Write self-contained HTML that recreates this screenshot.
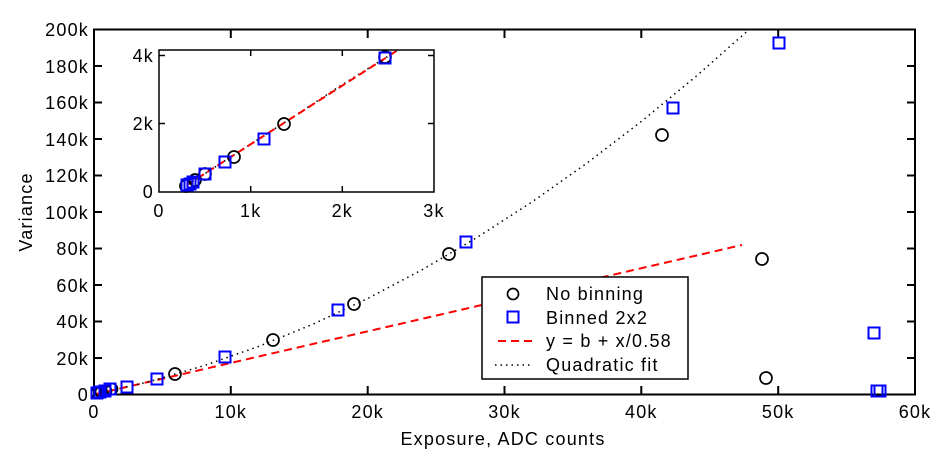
<!DOCTYPE html>
<html><head><meta charset="utf-8"><style>
html,body{margin:0;padding:0;background:#fff}
svg{display:block;font-family:"Liberation Sans",Arial,sans-serif}
</style></head><body>
<svg width="943" height="457" viewBox="0 0 943 457">
<rect width="943" height="457" fill="#fff"/>
<g stroke="#000" stroke-width="2" fill="none">
<rect x="94" y="29.5" width="821" height="365"/>
</g>
<g stroke="#000" stroke-width="2">
<line x1="230.8" y1="394" x2="230.8" y2="386"/><line x1="230.8" y1="30" x2="230.8" y2="38"/>
<line x1="367.7" y1="394" x2="367.7" y2="386"/><line x1="367.7" y1="30" x2="367.7" y2="38"/>
<line x1="504.5" y1="394" x2="504.5" y2="386"/><line x1="504.5" y1="30" x2="504.5" y2="38"/>
<line x1="641.3" y1="394" x2="641.3" y2="386"/><line x1="641.3" y1="30" x2="641.3" y2="38"/>
<line x1="778.2" y1="394" x2="778.2" y2="386"/><line x1="778.2" y1="30" x2="778.2" y2="38"/>
<line x1="94" y1="358" x2="102" y2="358"/><line x1="915" y1="358" x2="907" y2="358"/>
<line x1="94" y1="321.5" x2="102" y2="321.5"/><line x1="915" y1="321.5" x2="907" y2="321.5"/>
<line x1="94" y1="285" x2="102" y2="285"/><line x1="915" y1="285" x2="907" y2="285"/>
<line x1="94" y1="248.5" x2="102" y2="248.5"/><line x1="915" y1="248.5" x2="907" y2="248.5"/>
<line x1="94" y1="212" x2="102" y2="212"/><line x1="915" y1="212" x2="907" y2="212"/>
<line x1="94" y1="175.5" x2="102" y2="175.5"/><line x1="915" y1="175.5" x2="907" y2="175.5"/>
<line x1="94" y1="139" x2="102" y2="139"/><line x1="915" y1="139" x2="907" y2="139"/>
<line x1="94" y1="102.5" x2="102" y2="102.5"/><line x1="915" y1="102.5" x2="907" y2="102.5"/>
<line x1="94" y1="66" x2="102" y2="66"/><line x1="915" y1="66" x2="907" y2="66"/>
</g>
<g font-size="18" letter-spacing="1.2" fill="#000" text-anchor="end">
<text x="89" y="401">0</text>
<text x="89" y="365">20k</text>
<text x="89" y="328">40k</text>
<text x="89" y="292">60k</text>
<text x="89" y="255">80k</text>
<text x="89" y="219">100k</text>
<text x="89" y="182">120k</text>
<text x="89" y="146">140k</text>
<text x="89" y="109">160k</text>
<text x="89" y="73">180k</text>
<text x="89" y="36">200k</text>
</g>
<g font-size="18" letter-spacing="1.2" fill="#000" text-anchor="middle">
<text x="94" y="418">0</text>
<text x="230.8" y="418">10k</text>
<text x="367.7" y="418">20k</text>
<text x="504.5" y="418">30k</text>
<text x="641.3" y="418">40k</text>
<text x="778.2" y="418">50k</text>
<text x="915" y="418">60k</text>
<text x="503" y="445">Exposure, ADC counts</text>
<text transform="translate(32,212) rotate(-90)">Variance</text>
</g>
<polyline points="94,394.5 742,245" fill="none" stroke="#f00" stroke-width="2" stroke-dasharray="8,5"/>
<polyline fill="none" stroke="#000" stroke-width="1.5" stroke-dasharray="1.5,4"
points="94,394.5 148.7,381.8 203.5,365.8 258.2,346.6 312.9,324.2 367.7,298.5 422.4,269.6 477.1,237.4 531.9,202 586.6,163.4 641.3,121.5 696.1,76.3 749.4,29.3"/>
<g fill="none" stroke="#000" stroke-width="1.7">
<circle cx="97" cy="393" r="5.5"/><circle cx="101" cy="392" r="5.5"/><circle cx="106" cy="391" r="5.5"/><circle cx="112" cy="389" r="5.5"/>
<circle cx="175" cy="374" r="6"/><circle cx="273" cy="340" r="6"/><circle cx="354" cy="304" r="6"/>
<circle cx="449" cy="254" r="6"/><circle cx="662" cy="135" r="6"/><circle cx="762" cy="259" r="6"/><circle cx="766" cy="378" r="6"/>
</g>
<g fill="none" stroke="#00f" stroke-width="2">
<rect x="91.5" y="387.5" width="11" height="11"/><rect x="94.5" y="386.5" width="11" height="11"/><rect x="99.5" y="385.5" width="11" height="11"/><rect x="104.5" y="383.5" width="11" height="11"/>
<rect x="121.5" y="381.5" width="11" height="11"/><rect x="151.5" y="373.5" width="11" height="11"/><rect x="219.5" y="351.5" width="11" height="11"/>
<rect x="332.5" y="304.5" width="11" height="11"/><rect x="460.5" y="236.5" width="11" height="11"/><rect x="667.5" y="102.5" width="11" height="11"/>
<rect x="773.5" y="37.5" width="11" height="11"/><rect x="868.5" y="327.5" width="11" height="11"/><rect x="871.5" y="385.5" width="11" height="11"/><rect x="874.5" y="385.5" width="11" height="11"/>
</g>
<rect x="482" y="277" width="206" height="102" fill="#fff" stroke="#000" stroke-width="1.5"/>
<circle cx="513" cy="294" r="5.5" fill="none" stroke="#000" stroke-width="1.7"/>
<rect x="507.5" y="311.5" width="11" height="11" fill="none" stroke="#00f" stroke-width="2"/>
<line x1="498" y1="341" x2="533" y2="341" stroke="#f00" stroke-width="2" stroke-dasharray="8,5"/>
<line x1="495" y1="365" x2="530" y2="365" stroke="#000" stroke-width="1.5" stroke-dasharray="1.5,4"/>
<g font-size="18" letter-spacing="1.2" fill="#000">
<text x="546" y="300">No binning</text>
<text x="546" y="324">Binned 2x2</text>
<text x="546" y="347">y = b + x/0.58</text>
<text x="546" y="371">Quadratic fit</text>
</g>
<rect x="159" y="50" width="275" height="142" fill="#fff" stroke="#000" stroke-width="1.5"/>
<g stroke="#000" stroke-width="1.5">
<line x1="250.7" y1="192" x2="250.7" y2="186"/><line x1="250.7" y1="50" x2="250.7" y2="56"/>
<line x1="342.3" y1="192" x2="342.3" y2="186"/><line x1="342.3" y1="50" x2="342.3" y2="56"/>
<line x1="159" y1="123.5" x2="165" y2="123.5"/><line x1="434" y1="123.5" x2="428" y2="123.5"/>
<line x1="159" y1="55.5" x2="165" y2="55.5"/><line x1="434" y1="55.5" x2="428" y2="55.5"/>
</g>
<g font-size="18" letter-spacing="1.2" fill="#000">
<text x="154" y="198" text-anchor="end">0</text>
<text x="154" y="130" text-anchor="end">2k</text>
<text x="154" y="62" text-anchor="end">4k</text>
<text x="159" y="217" text-anchor="middle">0</text>
<text x="250.7" y="217" text-anchor="middle">1k</text>
<text x="342.3" y="217" text-anchor="middle">2k</text>
<text x="434" y="217" text-anchor="middle">3k</text>
</g>
<polyline points="187,185 240,151 290,119 340,86 398,50" fill="none" stroke="#000" stroke-width="1.5" stroke-dasharray="1.5,4"/>
<polyline points="187,185 398,50" fill="none" stroke="#f00" stroke-width="2" stroke-dasharray="8,4"/>
<g fill="none" stroke="#000" stroke-width="1.7">
<circle cx="186" cy="186" r="6"/><circle cx="195" cy="180" r="6"/><circle cx="205" cy="174" r="6"/>
<circle cx="234" cy="157" r="6"/><circle cx="284" cy="124" r="6"/><circle cx="385" cy="57" r="6"/>
</g>
<g fill="none" stroke="#00f" stroke-width="2">
<rect x="181.5" y="179.5" width="11" height="11"/><rect x="184.5" y="178.5" width="11" height="11"/><rect x="187.5" y="176.5" width="11" height="11"/>
<rect x="199.5" y="168.5" width="11" height="11"/><rect x="219.5" y="156.5" width="11" height="11"/><rect x="258.5" y="133.5" width="11" height="11"/><rect x="379.5" y="52.5" width="11" height="11"/>
</g>
</svg>
</body></html>
